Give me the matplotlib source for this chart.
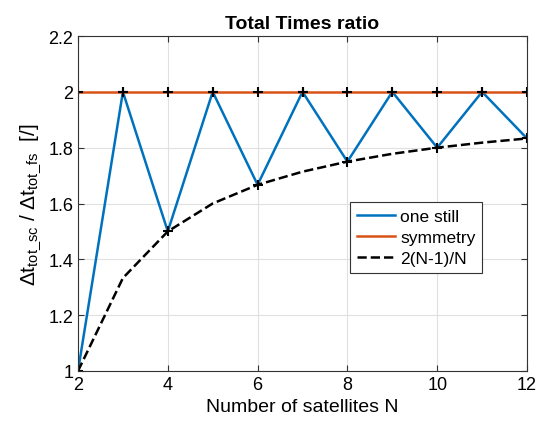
import numpy as np
import matplotlib.pyplot as plt

plt.rcParams['font.family'] = ['Liberation Sans', 'DejaVu Sans']
plt.rcParams['mathtext.default'] = 'regular'

N = [2, 3, 4, 5, 6, 7, 8, 9, 10, 11, 12]
one_still = [1.0, 2.0, 1.5, 2.0, 1.667, 2.0, 1.75, 2.0, 1.8, 2.0, 1.833]
symmetry = [2.0, 2.0, 2.0, 2.0, 2.0, 2.0, 2.0, 2.0, 2.0, 2.0, 2.0]
ratio = [1.0, 1.333, 1.5, 1.6, 1.667, 1.714, 1.75, 1.778, 1.8, 1.818, 1.833]

fig = plt.figure(figsize=(5.39, 4.35), dpi=100)
ax = fig.add_axes([78/539, 63/435, 449/539, 335/435])

ax.plot(N, one_still, color='#0072BD', lw=1.8, label='one still')
ax.plot(N, symmetry, color='#D95319', lw=1.8, label='symmetry')
ax.plot(N, ratio, 'k--', lw=1.8, label='2(N-1)/N')
ax.plot(N, one_still, 'k+', ms=7, mew=1.5)
ax.plot(N, symmetry, 'k+', ms=7, mew=1.5)

ax.set_xlim(2, 12)
ax.set_ylim(1, 2.2)
ax.set_xticks([2, 4, 6, 8, 10, 12])
ax.set_yticks([1, 1.2, 1.4, 1.6, 1.8, 2, 2.2])
ax.set_yticklabels(['1', '1.2', '1.4', '1.6', '1.8', '2', '2.2'])
ax.grid(True, color='#e0e0e0', lw=0.8)
ax.tick_params(direction='in', labelsize=13, top=True, right=True, length=4, color='#333333')
for s in ax.spines.values():
    s.set_color('#333333')

ax.set_title('Total Times ratio', fontsize=14, fontweight='bold')
ax.set_xlabel('Number of satellites N', fontsize=14)
ax.set_ylabel(r'$\Delta t_{tot\_sc}$ / $\Delta t_{tot\_fs}$  [/]', fontsize=15)

leg = ax.legend(loc='upper left', bbox_to_anchor=(0.605, 0.505), fontsize=12.5,
                fancybox=False, framealpha=1, edgecolor='#333333',
                handlelength=2.2, handletextpad=0.3, borderpad=0.4, labelspacing=0.35,
                borderaxespad=0)
leg.get_frame().set_linewidth(0.8)

fig.savefig('out.png', dpi=100)
